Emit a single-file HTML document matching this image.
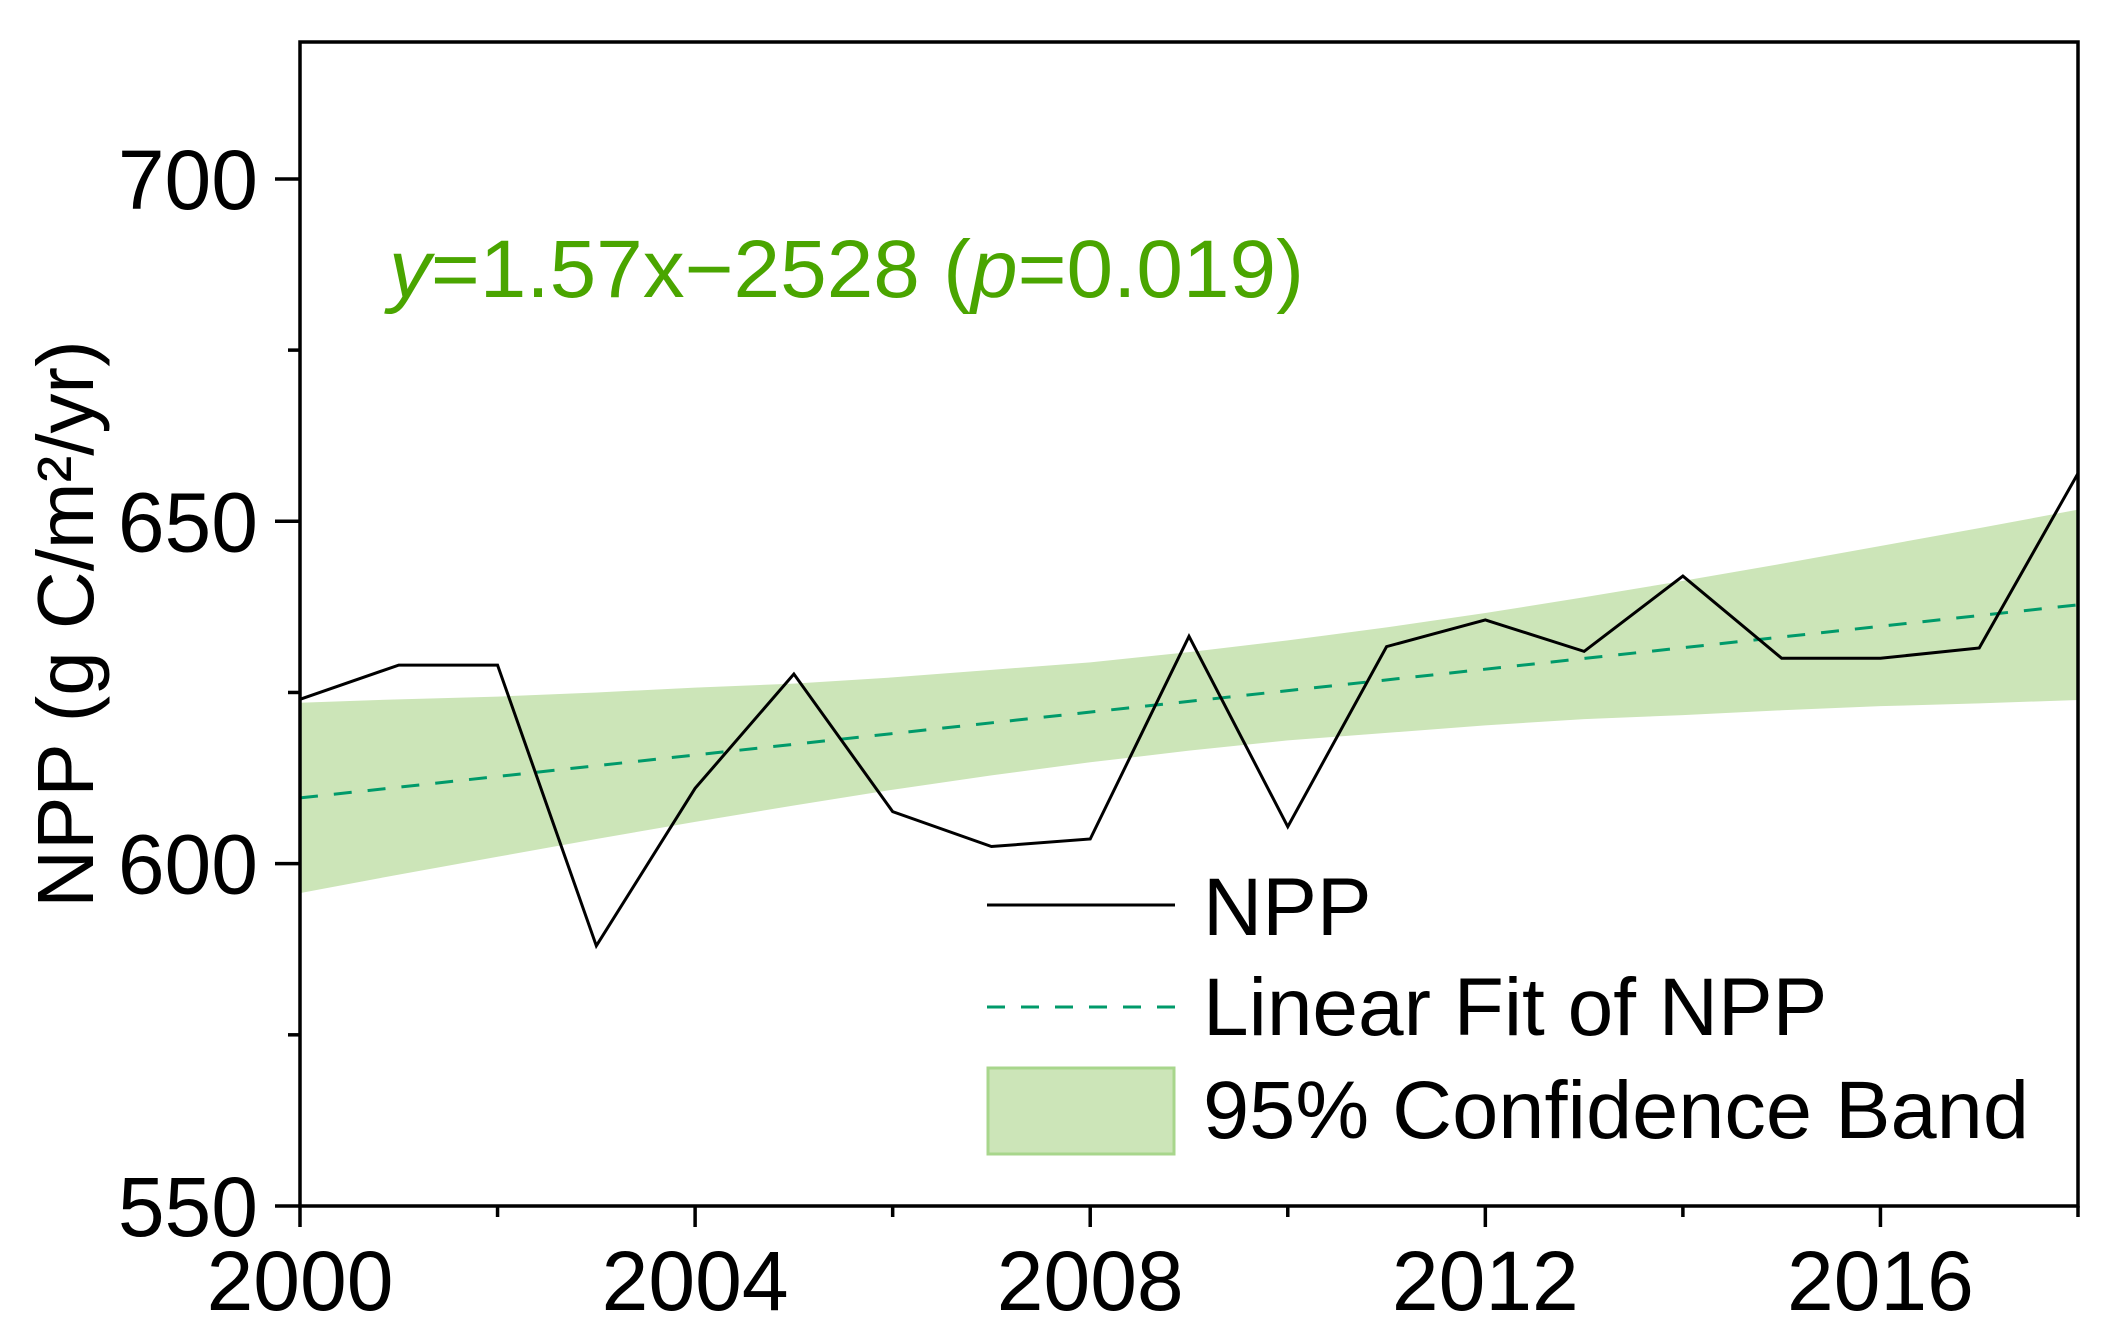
<!DOCTYPE html>
<html><head><meta charset="utf-8"><style>
html,body{margin:0;padding:0;background:#fff}
svg{display:block;font-family:"Liberation Sans",Arial,sans-serif}
</style></head><body>
<svg id="chart" width="2115" height="1339" viewBox="0 0 2115 1339" xmlns="http://www.w3.org/2000/svg">
<g id="band"></g>
<g id="fit"></g>
<g id="series"></g>
<g id="axes"></g>
<text x="389" y="297" font-size="82" fill="#4aa500" textLength="915" lengthAdjust="spacingAndGlyphs"><tspan font-style="italic">y</tspan>=1.57x−2528 (<tspan font-style="italic">p</tspan>=0.019)</text>
<text transform="translate(93,624) rotate(-90)" text-anchor="middle" font-size="80" fill="#000">NPP (g C/m²/yr)</text>
<g>
  <line x1="987" y1="905" x2="1175" y2="905" stroke="#000" stroke-width="3"/>
  <text x="1203" y="935" font-size="82">NPP</text>
  <line x1="987" y1="1007" x2="1175" y2="1007" stroke="#009a6a" stroke-width="3" stroke-dasharray="18,16"/>
  <text x="1203" y="1035" font-size="82">Linear Fit of NPP</text>
  <rect x="988" y="1068" width="186" height="86" fill="#cce5b8" stroke="#a8d68c" stroke-width="3"/>
  <text x="1203" y="1138" font-size="82" textLength="826" lengthAdjust="spacingAndGlyphs">95% Confidence Band</text>
</g>
</svg>
<script>
const years = [2000,2001,2002,2003,2004,2005,2006,2007,2008,2009,2010,2011,2012,2013,2014,2015,2016,2017,2018];
const nppValues = [624,629,629,588,611,627.7,607.6,602.5,603.6,633.2,605.4,631.7,635.6,631,642,630,630,631.5,657];
const fitYears = [2000,2018];
const fitValues = [609.6,637.8];
const bandUpper = [623.5,624.0,624.4,625.0,625.7,626.3,627.2,628.3,629.4,630.9,632.6,634.5,636.6,638.9,641.3,643.8,646.4,649.0,651.7];
const bandLower = [595.7,598.4,601.0,603.6,606.1,608.5,610.8,612.9,614.8,616.5,618.0,619.1,620.2,621.1,621.7,622.4,623.0,623.4,623.9];
const yTicks = [550,600,650,700];
const yMinor = [575,625,675];
const xTicks = [2000,2004,2008,2012,2016];
const xMinor = [2002,2006,2010,2014,2018];

const L=300,R=2078,T=42,B=1206,X0=2000,X1=2018,Y0=550,Y1=720;
const sx=v=>L+(v-X0)/(X1-X0)*(R-L);
const sy=v=>B-(v-Y0)/(Y1-Y0)*(B-T);
const NS="http://www.w3.org/2000/svg";
function mk(tag,parent,attrs){const e=document.createElementNS(NS,tag);for(const k in attrs)e.setAttribute(k,attrs[k]);parent.appendChild(e);return e;}

const band=document.getElementById('band');
let d='M'+years.map((y,i)=>sx(y)+','+sy(bandUpper[i])).join('L');
for(let i=years.length-1;i>=0;i--) d+='L'+sx(years[i])+','+sy(bandLower[i]);
const bp=mk('path',band,{d:d+'Z',fill:'#cce5b8'});



const fit=document.getElementById('fit');
const fl=mk('line',fit,{x1:sx(fitYears[0]),y1:sy(fitValues[0]),x2:sx(fitYears[1]),y2:sy(fitValues[1]),stroke:'#009a6a','stroke-width':3,'stroke-dasharray':'18,16'});



const ser=document.getElementById('series');
const pl=mk('polyline',ser,{points:years.map((y,i)=>sx(y)+','+sy(nppValues[i])).join(' '),fill:'none',stroke:'#000','stroke-width':3,'stroke-linejoin':'miter'});



const ax=document.getElementById('axes');
const fr=mk('rect',ax,{x:L,y:T,width:R-L,height:B-T,fill:'none',stroke:'#000','stroke-width':3.5});


yTicks.forEach(v=>{
  const t=mk('line',ax,{x1:L-25,y1:sy(v),x2:L,y2:sy(v),stroke:'#000','stroke-width':3.5});
  
  
  const tx=mk('text',ax,{x:L-42,y:sy(v)+30,'text-anchor':'end','font-size':84});
  tx.textContent=v;
  
  
});
yMinor.forEach(v=>{
  const t=mk('line',ax,{x1:L-12,y1:sy(v),x2:L,y2:sy(v),stroke:'#000','stroke-width':3.5});
  
  
});
xTicks.forEach(v=>{
  const t=mk('line',ax,{x1:sx(v),y1:B,x2:sx(v),y2:B+21,stroke:'#000','stroke-width':3.5});
  
  
  const tx=mk('text',ax,{x:sx(v),y:B+104,'text-anchor':'middle','font-size':84});
  tx.textContent=v;
  
  
});
xMinor.forEach(v=>{
  const t=mk('line',ax,{x1:sx(v),y1:B,x2:sx(v),y2:B+11,stroke:'#000','stroke-width':3.5});
  
  
});
</script>
</body></html>
